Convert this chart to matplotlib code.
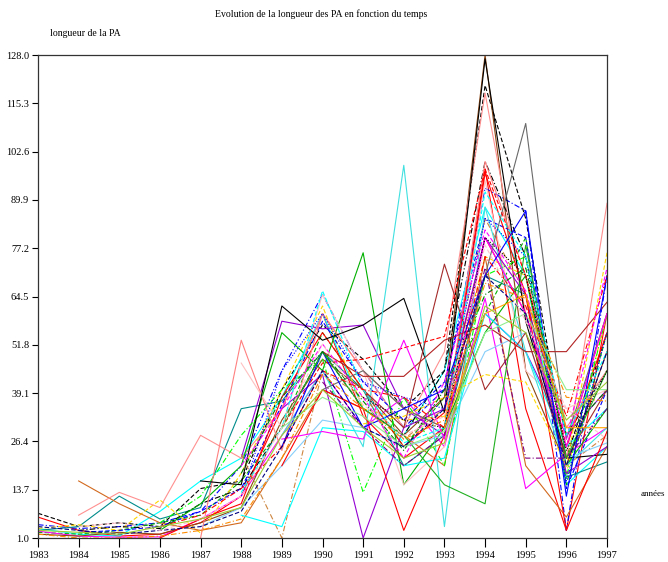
import numpy as np
import matplotlib
matplotlib.use("Agg")
import matplotlib.pyplot as plt

plt.rcParams['font.family'] = ['Liberation Serif', 'DejaVu Serif']

n = np.nan
years = list(range(1983, 1998))
ytick_vals = [1.0, 13.7, 26.4, 39.1, 51.8, 64.5, 77.2, 89.9, 102.6, 115.3, 128.0]

# longueur de la PA par dossier, 1983 -> 1997 (nan = pas de mesure)
a1 = [7.5, 4, 5, 4, 14, 16, 40, 57, 48, 35, 45, 120, 85, 22, 55]
a2 = [6.5, 3, 1.5, 2, 5, 12, 35, 60, 33, 22, 30, 98, 35, 3, 60]
a3 = [4.5, 3.5, 4, 5, 8, 20, 45, 65, 45, 30, 40, 93, 87, 3, 70]
a4 = [3.5, 2, 1.5, 8, 16, 22, 38, 60, 35, 28, 45, 88, 70, 15, 25]
a5 = [3, 4, 12, 6, 9, 35, 37, 50, 40, 20, 28, 70, 65, 17, 21]
a6 = [2.5, 2, 3, 5, 7, 16, 30, 55, 40, 25, 38, 60, 80, 15, 55]
a7 = [2.8, 1.5, 1.2, 1.3, 6, 12, 28, 45, 30, 38, 25, 64, 14, 23, 30]
a8 = [2, 1.5, 2.5, 2, 5, 9, 32, 48, 40, 28, 38, 128, 45, 20, 50]
a9 = [3.5, 4.5, 3, 11, 2.3, 18, 40, 62, 35, 32, 33, 75, 70, 18, 60]
a10 = [n, n, n, n, n, 22, 58, 56, 57, 35, 28, 60, 50, 28, 40]
b1 = [n, 16, 10, 5, 3, 5, 22, 40, 35, 28, 20, 75, 20, 6.5, 25]
b2 = [n, 7, 13, 9, 28, 22, 35, 60, 45, 30, 50, 118, 60, 22, 89]
b3 = [n, 3, 4, 3.5, 10, 14, 30, 50, 35, 28, 45, 100, 75, 28, 45]
b4 = [n, 2.5, 3, 4, 8, 14, 36, 58, 42, 32, 42, 85, 80, 14, 40]
c1 = [n, n, n, 1, 6, 10, 38, 55, 40, 25, 34, 80, 60, 25, 55]
c2 = [n, n, n, 3, 10, 20, 55, 45, 76, 15, 30, 55, 70, 20, 35]
c3 = [n, n, n, 5, 12, 28, 40, 48, 13, 38, 20, 70, 75, 17, 60]
c4 = [n, n, n, n, n, 23, 1, 45, 38, 27, 35, 85, 65, 20, 28]
c5 = [n, n, n, n, 4, 9, 20, 32, 30, 25, 28, 50, 55, 22, 26]
c6 = [n, n, n, n, 1, 53, 24, 60, 45, 35, 30, 100, 70, 30, 45]
c7 = [n, n, n, n, n, 47, 30, 65, 45, 15, 25, 95, 45, 35, 40]
c8 = [n, n, n, n, n, 7, 4, 30, 29, 20, 22, 60, 50, 25, 35]
d1 = [n, n, n, n, 16, 15, 62, 53, 57, 64, 34, 127, 58, 22, 23]
d2 = [n, n, n, n, n, n, 28, 45, 25, 99, 4, 88, 50, 20, 30]
d3 = [n, n, n, n, n, n, 35, 44, 1, 30, 35, 80, 65, 18, 25]
d4 = [n, n, n, n, n, n, 20, 40, 35, 3, 28, 97, 65, 3, 29]
d5 = [n, n, n, n, n, n, n, 40, 45, 35, 30, 70, 110, 27, 60]
d6 = [n, n, n, n, n, n, n, n, 40, 30, 73, 40, 55, 22, 40]
d7 = [n, n, n, n, n, n, n, 50, 43.5, 43.5, 53, 57, 50, 50, 63]
d8 = [n, n, n, n, n, n, 30, 47, 48, 51, 54, 98, 70, 25, 60]
d9 = [n, n, n, n, n, n, n, n, 31, 33, 38, 44, 42, 20, 76]
d10 = [n, n, n, n, n, n, 27, 29, 27, 53, 27, 80, 60, 25, 60]
d11 = [n, n, n, n, n, n, 25, 50, 30, 35, 40, 70, 87, 12, 70]
d12 = [n, n, n, n, n, n, 30, 50, 35, 28, 15, 10, 78, 22, 45]
e1 = [n, n, n, n, n, 12, 45, 60, 42, 38, 35, 85, 75, 16, 55]
e2 = [n, n, n, n, n, 18, 38, 50, 37, 24, 40, 65, 72, 28, 40]
e3 = [n, n, n, 4, 7, 14, 25, 45, 40, 38, 30, 75, 62, 33, 70]
e4 = [n, n, n, n, n, 20, 35, 52, 38, 22, 42, 82, 66, 27, 72]
e5 = [n, n, n, n, n, 13, 30, 66, 40, 26, 30, 92, 75, 28, 50]
e6 = [n, n, n, n, n, n, n, 42, 30, 20, 28, 72, 22, 22, 35]
e7 = [n, n, n, n, n, n, 30, 38, 33, 25, 29, 55, 60, 40, 40]
e8 = [n, n, n, n, n, n, n, n, 38, 32, 30, 80, 70, 24, 45]
e9 = [n, n, n, n, n, n, n, n, n, n, 30, 60, 65, 30, 30]
f1 = [4, 3, 2, 3, 4, 8, 25, 45, 30, 25, 35, 70, 60, 20, 50]
f2 = [n, 4, 5, 3, 6, 12, 30, 52, 36, 28, 33, 78, 58, 35, 27]
f3 = [3, 2.5, 2, 4, 6, 9, 28, 40, 30, 22, 26, 62, 55, 32, 42]
f4 = [2, 1, 1, 1.5, 3, 6, 22, 44, 35, 27, 32, 68, 64, 38, 37]

series = [a1, a2, a3, a4, a5, a6, a7, a8, a9, a10, b1, b2, b3, b4,
          c1, c2, c3, c4, c5, c6, c7, c8, d1, d2, d3, d4, d5, d6, d7, d8,
          d9, d10, d11, d12, e1, e2, e3, e4, e5, e6, e7, e8, e9, f1, f2, f3, f4]

# line look for each series, same order as above
dash = (0, (4, 2))
dashdot = (0, (5, 2, 1, 2))
dot = (0, (1, 1.5))
styles = [
    ('black', dash), ('red', '-'), ('blue', dashdot), ('cyan', '-'),
    ('darkcyan', '-'), ('#00b000', dash), ('magenta', '-'), ('saddlebrown', '-'),
    ('gold', dash), ('darkviolet', '-'), ('chocolate', '-'), ('#ff9090', '-'),
    ('black', dashdot), ('blue', dash), ('red', '-'), ('#00b000', '-'),
    ('lime', dashdot), ('peru', dashdot), ('lightskyblue', '-'), ('#ff8080', '-'),
    ('#ffc0c0', '-'), ('cyan', '-'), ('black', '-'), ('#40e0e0', '-'),
    ('darkviolet', '-'), ('red', '-'), ('dimgray', '-'), ('brown', '-'),
    ('firebrick', '-'), ('red', dash), ('gold', dash), ('magenta', '-'),
    ('blue', '-'), ('#20b020', '-'), ('blue', dot), ('green', dashdot),
    ('red', dashdot), ('magenta', dash), ('cyan', dash), ('purple', dashdot),
    ('lightgreen', '-'), ('black', dot), ('orange', '-'), ('navy', dash),
    ('pink', dash), ('yellowgreen', '-'), ('darkorange', dashdot),
]

fig = plt.figure(figsize=(6.68, 5.62), dpi=100)
ax = fig.add_axes([38 / 668, 1 - 538 / 562, 569 / 668, 483 / 562])

for vals, (col, ls) in zip(series, styles):
    ax.plot(years, vals, color=col, linestyle=ls, linewidth=0.8)

ax.set_xlim(1983, 1997)
ax.set_ylim(1.0, 128.0)
ax.set_xticks(years)
ax.set_yticks(ytick_vals)
ax.set_yticklabels([f'{v:.1f}' for v in ytick_vals])
ax.tick_params(axis='y', direction='out', length=4.3, width=0.8, pad=2, labelsize=7.5)
ax.tick_params(axis='x', direction='out', length=6.5, width=0.8, pad=3, labelsize=7.5)
for sp in ax.spines.values():
    sp.set_linewidth(0.9)
    sp.set_color('#333333')

fig.text(0.48, 1 - 14 / 562, 'Evolution de la longueur des PA en fonction du temps',
         ha='center', va='center', fontsize=7)
fig.text(50 / 668, 1 - 34 / 562, 'longueur de la PA', ha='left', va='center', fontsize=7)
fig.text(641 / 668, 1 - 494 / 562, 'années', ha='left', va='center', fontsize=6.5)

fig.savefig('out.png', dpi=100)
